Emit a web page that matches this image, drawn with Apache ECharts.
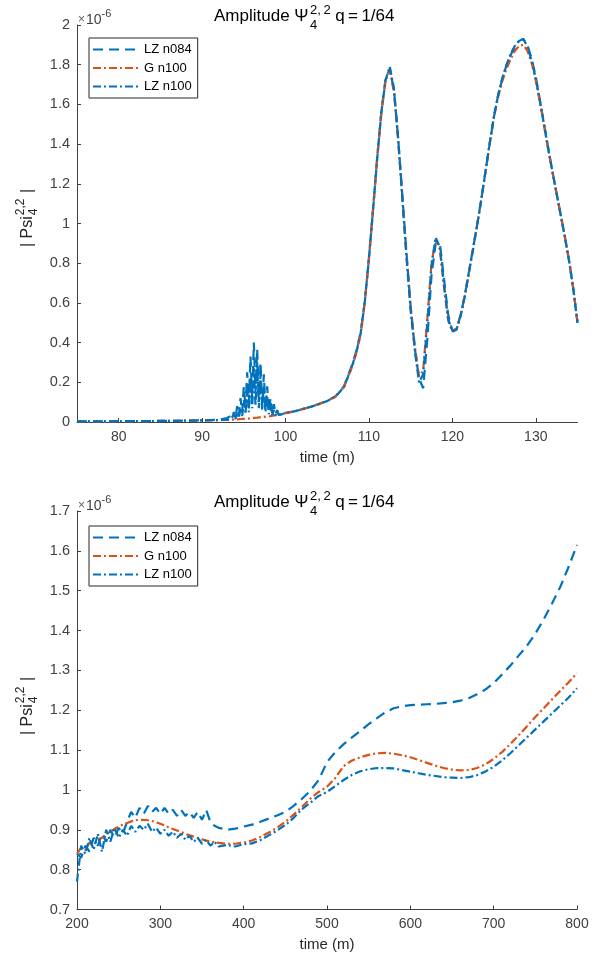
<!DOCTYPE html>
<html><head><meta charset="utf-8">
<script src="https://cdn.jsdelivr.net/npm/echarts@6/dist/echarts.min.js"></script>
<style>html,body{margin:0;padding:0;background:#fff}#c{width:605px;height:962px}</style>
</head><body><div id="c"></div>
<script>
// ---------- DATA (values in units of 1e-6) ----------
const seriesNames = ['LZ n084', 'G n100', 'LZ n100'];

const topTime = [75, 78, 81, 84, 87, 90, 92,
 93.0, 93.2, 93.4, 93.6, 93.8, 94.0, 94.2, 94.4, 94.6, 94.8, 95.0, 95.2, 95.4, 95.6, 95.8, 96.0, 96.2, 96.4, 96.6, 96.8,
 97.0, 97.2, 97.4, 97.6, 97.8, 98.0, 98.2, 98.4, 98.6, 98.8, 99.0, 99.2, 99.4, 99.6, 99.8, 100.0,
 101, 102, 103, 104, 105, 106, 107, 108,
 108.5, 109, 109.5, 110, 110.5, 111, 111.5, 112, 112.5, 113, 113.5, 114, 114.5, 115, 115.5, 116, 116.5, 117, 117.5, 118,
 118.5, 119, 119.5, 120, 120.5, 121, 121.5, 122, 122.5, 123, 123.5, 124, 124.5, 125, 125.5, 126, 126.5, 127, 127.5, 128,
 128.5, 129, 129.5, 130, 130.5, 131, 131.5, 132, 132.5, 133, 133.5, 134, 134.5, 135];

const topLZ084 = [0.004, 0.003, 0.005, 0.004, 0.006, 0.008, 0.012,
 0.02, 0.01, 0.03, 0.015, 0.05, 0.02, 0.08, 0.03, 0.12, 0.05, 0.18, 0.07, 0.25, 0.1, 0.33, 0.12, 0.40, 0.15, 0.37, 0.1,
 0.3, 0.08, 0.24, 0.06, 0.18, 0.05, 0.12, 0.04, 0.09, 0.04, 0.06, 0.035, 0.05, 0.04, 0.045, 0.046,
 0.054, 0.065, 0.077, 0.091, 0.107, 0.13, 0.18, 0.29,
 0.36, 0.45, 0.61, 0.83, 1.08, 1.34, 1.57, 1.73, 1.78, 1.67, 1.43, 1.14, 0.85, 0.58, 0.37, 0.22, 0.17, 0.42, 0.74, 0.9,
 0.9, 0.72, 0.54, 0.46, 0.47, 0.54, 0.64, 0.76, 0.88, 1.0, 1.13, 1.27, 1.41, 1.54, 1.65, 1.73, 1.8, 1.85, 1.89, 1.92,
 1.93, 1.9, 1.83, 1.74, 1.62, 1.5, 1.38, 1.26, 1.15, 1.04, 0.93, 0.81, 0.67, 0.5];

const topG100 = [0.003, 0.003, 0.004, 0.005, 0.006, 0.008, 0.01,
 0.010, 0.011, 0.011, 0.012, 0.012, 0.013, 0.013, 0.014, 0.015, 0.015, 0.016, 0.017, 0.017, 0.018, 0.019, 0.02, 0.021, 0.022, 0.022, 0.023,
 0.024, 0.025, 0.026, 0.027, 0.028, 0.029, 0.030, 0.031, 0.033, 0.034, 0.035, 0.037, 0.038, 0.040, 0.042, 0.045,
 0.053, 0.064, 0.076, 0.09, 0.106, 0.128, 0.175, 0.28,
 0.35, 0.44, 0.6, 0.82, 1.07, 1.33, 1.56, 1.72, 1.77, 1.66, 1.42, 1.13, 0.84, 0.58, 0.38, 0.23, 0.26, 0.52, 0.8, 0.92,
 0.87, 0.68, 0.51, 0.455, 0.47, 0.54, 0.64, 0.76, 0.88, 1.0, 1.13, 1.27, 1.41, 1.54, 1.64, 1.72, 1.78, 1.83, 1.87, 1.895,
 1.9, 1.87, 1.81, 1.72, 1.61, 1.49, 1.37, 1.26, 1.15, 1.04, 0.93, 0.81, 0.67, 0.5];

const topLZ100 = [0.003, 0.003, 0.004, 0.005, 0.006, 0.008, 0.01,
 0.012, 0.01, 0.018, 0.012, 0.03, 0.015, 0.05, 0.02, 0.07, 0.03, 0.11, 0.04, 0.16, 0.05, 0.22, 0.07, 0.27, 0.08, 0.3, 0.07,
 0.24, 0.06, 0.18, 0.05, 0.13, 0.04, 0.09, 0.035, 0.06, 0.035, 0.05, 0.036, 0.045, 0.04, 0.043, 0.045,
 0.053, 0.064, 0.076, 0.09, 0.106, 0.128, 0.176, 0.285,
 0.355, 0.445, 0.605, 0.825, 1.075, 1.335, 1.565, 1.725, 1.79, 1.68, 1.43, 1.13, 0.83, 0.56, 0.36, 0.2, 0.24, 0.5, 0.79, 0.93,
 0.88, 0.69, 0.52, 0.455, 0.465, 0.535, 0.635, 0.755, 0.875, 1.0, 1.13, 1.27, 1.41, 1.545, 1.65, 1.735, 1.8, 1.855, 1.895, 1.92,
 1.93, 1.89, 1.82, 1.73, 1.615, 1.495, 1.375, 1.26, 1.15, 1.04, 0.93, 0.81, 0.67, 0.5];

const botTime = [200, 205, 210, 215, 220, 225, 230, 235, 240, 245, 250, 255, 260, 265, 270, 275, 280, 285, 290, 295,
 300, 305, 310, 315, 320, 325, 330, 335, 340, 345, 350, 355, 360, 365, 370,
 380, 390, 400, 410, 420, 430, 440, 450, 460, 470, 480, 490, 500, 510, 520, 530, 540, 550, 560, 570,
 580, 590, 600, 610, 620, 630, 640, 650, 660, 670, 680, 690, 700, 710, 720, 730, 740, 750, 760, 770, 780, 790, 800];

const botLZ084 = [0.84, 0.83, 0.86, 0.845, 0.88, 0.86, 0.89, 0.87, 0.9, 0.88, 0.905, 0.89, 0.92, 0.945, 0.93, 0.955, 0.94, 0.96, 0.945, 0.955,
 0.94, 0.955, 0.94, 0.95, 0.935, 0.95, 0.935, 0.945, 0.93, 0.945, 0.925, 0.95, 0.92, 0.91, 0.905,
 0.9, 0.903, 0.908, 0.913, 0.92, 0.928, 0.936, 0.945, 0.96, 0.978, 0.998, 1.025, 1.07, 1.095, 1.115, 1.132, 1.148, 1.165, 1.18, 1.195,
 1.205, 1.21, 1.213, 1.214, 1.215, 1.216, 1.218, 1.22, 1.224, 1.23, 1.24, 1.252, 1.268, 1.29, 1.312, 1.337, 1.362, 1.392, 1.428, 1.468, 1.51, 1.56, 1.615];

const botG100 = [0.84, 0.855, 0.85, 0.868, 0.862, 0.876, 0.88, 0.888, 0.895, 0.902, 0.908, 0.913, 0.917, 0.921, 0.924, 0.925, 0.925, 0.924, 0.922, 0.919,
 0.915, 0.911, 0.906, 0.902, 0.898, 0.894, 0.89, 0.886, 0.883, 0.879, 0.876, 0.873, 0.871, 0.869, 0.867,
 0.865, 0.865, 0.868, 0.873, 0.882, 0.893, 0.905, 0.92, 0.938, 0.958, 0.978, 0.995, 1.008, 1.03, 1.06, 1.074, 1.082, 1.088, 1.092, 1.093,
 1.091, 1.087, 1.082, 1.075, 1.068, 1.061, 1.055, 1.051, 1.049, 1.05, 1.055, 1.064, 1.078, 1.095, 1.115, 1.137, 1.16, 1.183, 1.205, 1.227, 1.249, 1.27, 1.293];

const botLZ100 = [0.77, 0.86, 0.84, 0.88, 0.85, 0.89, 0.845, 0.9, 0.87, 0.905, 0.88, 0.9, 0.885, 0.91, 0.895, 0.91, 0.9, 0.915, 0.895, 0.905,
 0.89, 0.9, 0.885, 0.895, 0.88, 0.89, 0.875, 0.885, 0.87, 0.88, 0.865, 0.875, 0.86, 0.87, 0.858,
 0.862, 0.858, 0.864, 0.866, 0.874, 0.886, 0.898, 0.912, 0.93, 0.952, 0.968, 0.985, 0.995, 1.01, 1.025, 1.038, 1.047, 1.052, 1.055, 1.055,
 1.054, 1.05, 1.046, 1.042, 1.038, 1.035, 1.032, 1.031, 1.03, 1.032, 1.037, 1.046, 1.058, 1.074, 1.092, 1.112, 1.132, 1.152, 1.172, 1.192, 1.212, 1.232, 1.255];

const topXTicks = [80, 90, 100, 110, 120, 130];

// ---------- STYLE / LAYOUT ----------
const FONT = '"Liberation Sans", Arial, Helvetica, sans-serif';
const BLUE = '#0072BD', ORANGE = '#D95319';
const AX = '#404040';
const DASH = [10, 6];
const DASHDOT = [8, 3, 2, 3];

const mctx = document.createElement('canvas').getContext('2d');
function tw(text, size) { mctx.font = size + 'px ' + FONT; return mctx.measureText(text).width; }
function pairs(t, v) { return t.map((x, i) => [x, v[i]]); }

function txt(x, y, text, size, color, extra) {
  return Object.assign({ type: 'text', x: x, y: y, silent: true,
    style: { text: text, fontSize: size, fontFamily: FONT, fill: color || '#000', verticalAlign: 'middle' } }, extra || {});
}

function titleEls(dy) {
  const x0 = 214, y = 16 + dy;
  const a = 'Amplitude Ψ';
  const sup = '2,\u20092';
  const w1 = tw(a, 17);
  const w2 = tw(sup, 13);
  return [
    txt(x0, y, a, 17, '#000'),
    txt(x0 + w1 + 1.5, y - 6, sup, 13, '#000'),
    txt(x0 + w1 + 1.5, y + 9, '4', 13, '#000'),
    txt(x0 + w1 + w2 + 6, y, 'q\u2009=\u20091/64', 17, '#000')
  ];
}

function expEls(dy) {
  const x0 = 78;
  const w1 = tw('×', 12), w2 = tw('10', 14);
  return [
    txt(x0, 20 + dy, '×', 12, '#606060'),
    txt(x0 + w1 + 1, 20 + dy, '10', 14, '#404040'),
    txt(x0 + w1 + w2 + 1, 14 + dy, '-6', 11, '#404040')
  ];
}

function ylabEl(cy) {
  const f = 16, fs = 12;
  const s1 = '| Psi', s3 = ' |';
  const w1 = tw(s1, f), w2 = tw('2,2', fs), w3 = tw(s3, f);
  const total = w1 + w2 + w3 + 2;
  return {
    type: 'group', x: 28, y: cy + total / 2, rotation: Math.PI / 2, silent: true,
    children: [
      txt(0, 0, s1, f, '#262626'),
      txt(w1 + 1, -7, '2,2', fs, '#262626'),
      txt(w1 + 1, 6, '4', fs, '#262626'),
      txt(w1 + w2 + 2, 0, s3, f, '#262626')
    ]
  };
}

function xAxisCfg(gi, extra) {
  return Object.assign({
    gridIndex: gi, type: 'value',
    axisLine: { show: true, lineStyle: { color: AX, width: 1 } },
    axisTick: { show: true, inside: true, length: 4, lineStyle: { color: AX } },
    axisLabel: { color: AX, fontSize: 14, fontFamily: FONT, margin: 8 },
    splitLine: { show: false },
    name: 'time (m)', nameLocation: 'middle', nameGap: 28,
    nameTextStyle: { fontSize: 15, color: '#262626', fontFamily: FONT }
  }, extra);
}
function yAxisCfg(gi, extra) {
  return Object.assign({
    gridIndex: gi, type: 'value',
    axisLine: { show: true, lineStyle: { color: AX, width: 1 } },
    axisTick: { show: true, inside: true, length: 4, lineStyle: { color: AX } },
    axisLabel: { color: AX, fontSize: 14.5, fontFamily: FONT, margin: 7 },
    splitLine: { show: false }
  }, extra);
}

function lineSeries(name, gi, t, v, color, dash) {
  return {
    name: name, type: 'line', xAxisIndex: gi, yAxisIndex: gi,
    data: pairs(t, v), showSymbol: false, symbol: 'none', smooth: false,
    lineStyle: { color: color, width: 2.2, type: dash }, itemStyle: { color: color },
    emphasis: { disabled: true }, animation: false
  };
}

function legendCfg(top) {
  return {
    left: 89, top: top, orient: 'vertical', data: seriesNames, selectedMode: false,
    borderColor: '#262626', borderWidth: 1, backgroundColor: '#fff',
    padding: [5, 6, 5, 3], itemWidth: 46, itemHeight: 14, itemGap: 5.5, itemTextGap: 4,
    itemStyle: { opacity: 0 },
    textStyle: { fontSize: 13, color: '#000', fontFamily: FONT }
  };
}

const chart = echarts.init(document.getElementById('c'), null, { renderer: 'canvas' });
chart.setOption({
  animation: false,
  backgroundColor: '#fff',
  grid: [
    { left: 77, right: 27.5, top: 25, height: 397 },
    { left: 77, right: 28, top: 511, height: 398.5 }
  ],
  xAxis: [
    xAxisCfg(0, { min: 75, max: 135,
      axisTick: { show: true, inside: true, length: 4, lineStyle: { color: AX }, customValues: topXTicks },
      axisLabel: { color: AX, fontSize: 14, fontFamily: FONT, margin: 8, customValues: topXTicks } }),
    xAxisCfg(1, { min: 200, max: 800, interval: 100 })
  ],
  yAxis: [
    yAxisCfg(0, { min: 0, max: 2, interval: 0.2 }),
    yAxisCfg(1, { min: 0.7, max: 1.7, interval: 0.1 })
  ],
  legend: [legendCfg(38), legendCfg(526)],
  series: [
    lineSeries('LZ n084', 0, topTime, topLZ084, BLUE, DASH),
    lineSeries('G n100', 0, topTime, topG100, ORANGE, DASHDOT),
    lineSeries('LZ n100', 0, topTime, topLZ100, BLUE, DASHDOT),
    lineSeries('LZ n084', 1, botTime, botLZ084, BLUE, DASH),
    lineSeries('G n100', 1, botTime, botG100, ORANGE, DASHDOT),
    lineSeries('LZ n100', 1, botTime, botLZ100, BLUE, DASHDOT)
  ],
  graphic: [].concat(titleEls(0), titleEls(486), expEls(0), expEls(486), [ylabEl(218), ylabEl(706)])
});
</script>
</body></html>
